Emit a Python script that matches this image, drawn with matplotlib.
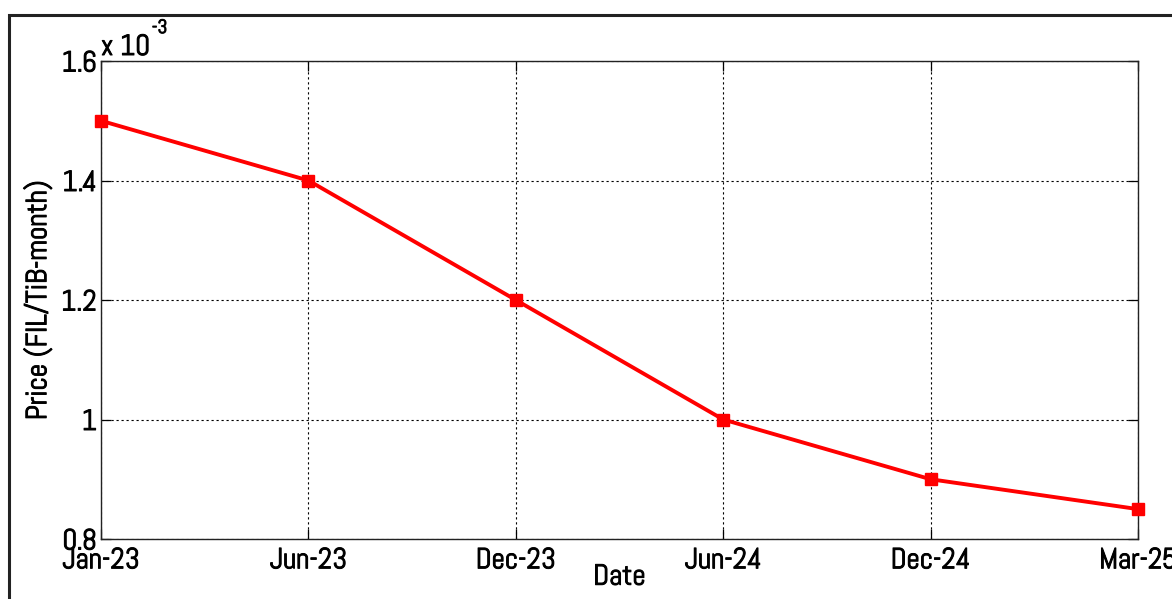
import matplotlib
matplotlib.use("Agg")
import matplotlib.pyplot as plt
import matplotlib.patheffects as pe
from matplotlib.patches import Rectangle
from matplotlib import font_manager

# Data
dates = ["Jan-23", "Jun-23", "Dec-23", "Jun-24", "Dec-24", "Mar-25"]
prices = [1.5e-3, 1.4e-3, 1.2e-3, 1.0e-3, 0.9e-3, 0.85e-3]
y_ticks = [0.8e-3, 1.0e-3, 1.2e-3, 1.4e-3, 1.6e-3]
y_tick_labels = ["0.8", "1", "1.2", "1.4", "1.6"]

available = {f.name for f in font_manager.fontManager.ttflist}
family = [f for f in ["Abel", "Pathway Gothic One", "Saira Condensed",
                      "Liberation Sans Narrow", "DejaVu Sans"] if f in available]
plt.rcParams["font.family"] = family

# thin outline to give the narrow face a heavier stroke
heavy = [pe.withStroke(linewidth=0.7, foreground="black")]

W, H = 1172, 599
fig = plt.figure(figsize=(W / 100, H / 100), dpi=100)
fig.patch.set_facecolor("white")

# outer frame of the figure window
fig.patches.append(Rectangle((9 / W, -0.05), 1.2, 1 - 15 / H + 0.05,
                             transform=fig.transFigure, fill=False,
                             edgecolor="#222222", linewidth=2.2, zorder=0))

ax = fig.add_axes([101 / W, 1 - 539 / H, (1138 - 101) / W, (539 - 61) / H])

x = list(range(len(dates)))
ax.plot(x, prices, color="#ff0000", linewidth=2.8, marker="s",
        markersize=9, markerfacecolor="#ff0000", markeredgecolor="#ff0000",
        zorder=3, clip_on=False)

ax.set_xlim(0, len(dates) - 1)
ax.set_ylim(0.8e-3, 1.6e-3)
ax.set_xticks(x)
ax.set_xticklabels(dates)
ax.set_yticks(y_ticks)
ax.set_yticklabels(y_tick_labels)

ax.grid(True, color="black", linestyle=(0, (2, 2.5)), linewidth=0.8)
ax.tick_params(direction="in", length=7, width=0.9, top=True, right=True,
               labelsize=21, colors="black")
ax.tick_params(axis="x", pad=6)
ax.tick_params(axis="y", pad=3)
for s in ax.spines.values():
    s.set_linewidth(1.0)
    s.set_color("#222222")

ax.set_ylabel("Price (FIL/TiB-month)", fontsize=21)
ax.yaxis.set_label_coords(-0.061, 0.5)
ax.yaxis.label.set_va("center")
ax.set_xlabel("Date", fontsize=21)
ax.xaxis.set_label_coords(0.5, -0.08)
ax.xaxis.label.set_va("center")

# exponent marker above the y axis
t1 = ax.text(0.0, 1.0, "x 10", transform=ax.transAxes, fontsize=21,
             ha="left", va="bottom")
t2 = ax.text(0.049, 1.05, "-3", transform=ax.transAxes, fontsize=14,
             ha="left", va="bottom")

for t in (ax.get_xticklabels() + ax.get_yticklabels()
          + [ax.xaxis.label, ax.yaxis.label, t1, t2]):
    t.set_path_effects(heavy)

fig.savefig("out.png", dpi=100)
